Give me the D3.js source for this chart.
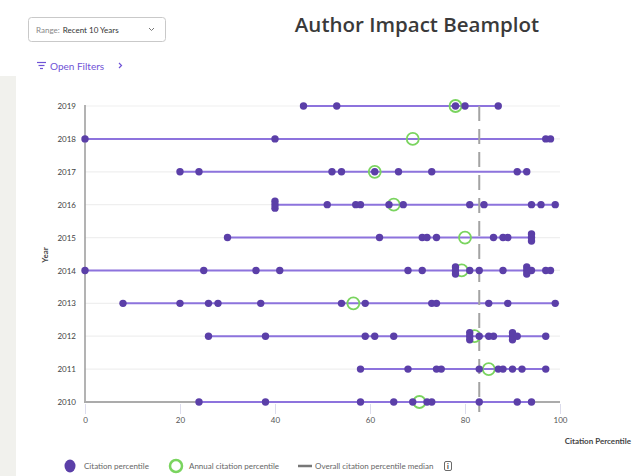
<!DOCTYPE html>
<html>
<head>
<meta charset="utf-8">
<script src="https://cdn.jsdelivr.net/npm/d3@7"></script>
<style>
  body { margin: 0; background: #fff; font-family: Lato, "Open Sans", sans-serif; }
  #beamplot { width: 641px; height: 476px; }
</style>
</head>
<body>
<div id="beamplot"></div>
<script>
/*
 *  DATA BLOCK STARTS
 */
var years = [2019, 2018, 2017, 2016, 2015, 2014, 2013, 2012, 2011, 2010];

var pct_2019 = [46, 53, 78, 80, 87];
var pct_2018 = [0, 40, 97, 98];
var pct_2017 = [20, 24, 52, 54, 61, 66, 73, 91, 93];
var pct_2016 = [40, 40, 40, 51, 57, 58, 64, 67, 81, 84, 94, 96, 99];
var pct_2015 = [30, 62, 71, 72, 74, 86, 88, 89, 94, 94, 94];
var pct_2014 = [0, 25, 36, 41, 68, 71, 78, 78, 78, 81, 83, 88, 93, 93, 93, 94, 97, 98];
var pct_2013 = [8, 20, 26, 28, 37, 54, 59, 73, 74, 85, 89, 99];
var pct_2012 = [26, 38, 59, 61, 65, 81, 81, 81, 83, 85, 86, 90, 90, 90, 91, 97];
var pct_2011 = [58, 68, 74, 75, 83, 87, 88, 90, 92, 97];
var pct_2010 = [24, 38, 58, 65, 69, 72, 73, 83, 91, 94];

var annual_pct = [78, 69, 61, 65, 80, 79.3, 56.5, 82, 85, 70.4];
var overall_median = 83;
var x_ticks = [0, 20, 40, 60, 80, 100];

var legend_labels = ["Citation percentile", "Annual citation percentile", "Overall citation percentile median"];
/*
 *  DATA BLOCK ENDS
 */

var pct_by_year = [pct_2019, pct_2018, pct_2017, pct_2016, pct_2015,
                   pct_2014, pct_2013, pct_2012, pct_2011, pct_2010];

var dot_color = "#5b3fa8";
var line_color = "#8d73dd";
var green = "#7ad45f";

var svg = d3.select('#beamplot')
    .append('svg')
        .attr('width', 641)
        .attr('height', 476);

// left grey strip of the page
svg.append('rect')
    .attr('x', 0).attr('y', 76)
    .attr('width', 16).attr('height', 400)
    .attr('fill', '#f1f1ed');

// header: range dropdown
var dd = svg.append('g');
dd.append('rect')
    .attr('x', 28.5).attr('y', 17.5)
    .attr('width', 137).attr('height', 24)
    .attr('rx', 3)
    .attr('fill', '#fff')
    .attr('stroke', '#c9c9c9');
dd.append('text')
    .attr('x', 36).attr('y', 32.5)
    .attr('font-size', 8)
    .attr('fill', '#888')
    .text('Range:')
    .append('tspan')
        .attr('fill', '#333')
        .attr('dx', 3)
        .text('Recent 10 Years');
dd.append('path')
    .attr('d', 'M149,28 l2.5,2.5 l2.5,-2.5')
    .attr('fill', 'none')
    .attr('stroke', '#777')
    .attr('stroke-width', 1);

svg.append('text')
    .attr('x', 417).attr('y', 32)
    .attr('text-anchor', 'middle')
    .attr('font-family', '"Open Sans", sans-serif')
    .attr('font-size', 20.5)
    .attr('font-weight', 600)
    .attr('fill', '#3a3a3a')
    .text('Author Impact Beamplot');

// open filters link
var of = svg.append('g').attr('stroke', '#6f52d6').attr('stroke-width', 1.2);
of.append('line').attr('x1', 37).attr('x2', 46).attr('y1', 62.5).attr('y2', 62.5);
of.append('line').attr('x1', 38.5).attr('x2', 44.5).attr('y1', 65.5).attr('y2', 65.5);
of.append('line').attr('x1', 40).attr('x2', 43).attr('y1', 68.5).attr('y2', 68.5);
of.append('path').attr('d', 'M119,63 l2.5,2.5 l-2.5,2.5').attr('fill', 'none');
svg.append('text')
    .attr('x', 50).attr('y', 69.5)
    .attr('font-size', 10)
    .attr('fill', '#6f52d6')
    .text('Open Filters');

/*
 *  PLOT
 */
var x_scale = d3.scaleLinear()
    .domain([0, 100])
    .range([85, 560]);
var y_scale = d3.scalePoint()
    .domain(years)
    .range([106, 402]);

var plot = svg.append('g');

// gridlines
plot.selectAll('.grid')
    .data(years)
    .enter().append('line')
        .attr('class', 'grid')
        .attr('x1', x_scale(0)).attr('x2', x_scale(100))
        .attr('y1', function(d) { return y_scale(d); })
        .attr('y2', function(d) { return y_scale(d); })
        .attr('stroke', '#efefef')
        .attr('stroke-width', 1.2);

// x axis
var x_axis = plot.append('g')
    .attr('transform', 'translate(0,' + y_scale(2010) + ')')
    .call(d3.axisBottom(x_scale).tickValues(x_ticks).tickSize(10).tickPadding(5));
x_axis.select('.domain').remove();
x_axis.selectAll('.tick line').attr('stroke', '#dcdcec').attr('transform', 'translate(0,2)');
x_axis.selectAll('.tick text')
    .attr('font-family', 'Lato, sans-serif')
    .attr('font-size', 8)
    .attr('fill', '#555');

// y axis
var y_axis = plot.append('g')
    .attr('transform', 'translate(' + x_scale(0) + ',0)')
    .call(d3.axisLeft(y_scale).tickSize(0).tickPadding(9));
y_axis.select('.domain').remove();
y_axis.selectAll('.tick text')
    .attr('font-family', 'Lato, sans-serif')
    .attr('font-size', 8)
    .attr('fill', '#444');

plot.append('line')
    .attr('x1', x_scale(0)).attr('x2', x_scale(0))
    .attr('y1', y_scale(2019) - 1).attr('y2', y_scale(2010))
    .attr('stroke', '#9a9a9a')
    .attr('stroke-width', 1.5);
plot.append('line')
    .attr('x1', x_scale(0) - 1).attr('x2', x_scale(100))
    .attr('y1', y_scale(2010)).attr('y2', y_scale(2010))
    .attr('stroke', '#ababab')
    .attr('stroke-width', 2);

// axis titles
svg.append('text')
    .attr('transform', 'translate(48,255)rotate(-90)')
    .attr('text-anchor', 'middle')
    .attr('font-size', 8)
    .attr('font-weight', 700)
    .attr('fill', '#444')
    .text('Year');
svg.append('text')
    .attr('x', 631).attr('y', 444)
    .attr('text-anchor', 'end')
    .attr('font-size', 8)
    .attr('font-weight', 700)
    .attr('fill', '#444')
    .text('Citation Percentile');

// beams
var rows = years.map(function(y, i) {
    return {year: y, values: pct_by_year[i], annual: annual_pct[i]};
});

plot.selectAll('.beam')
    .data(rows)
    .enter().append('line')
        .attr('class', 'beam')
        .attr('x1', function(d) { return x_scale(d3.min(d.values)); })
        .attr('x2', function(d) { return x_scale(d3.max(d.values)); })
        .attr('y1', function(d) { return y_scale(d.year); })
        .attr('y2', function(d) { return y_scale(d.year); })
        .attr('stroke', line_color)
        .attr('stroke-width', 2);

// median line
plot.append('line')
    .attr('x1', x_scale(overall_median)).attr('x2', x_scale(overall_median))
    .attr('y1', y_scale(2019)).attr('y2', y_scale(2010) + 10)
    .attr('stroke', '#a3a3a3')
    .attr('stroke-width', 2)
    .style('stroke-dasharray', '15, 8');

// annual percentile rings
plot.selectAll('.annual')
    .data(rows)
    .enter().append('circle')
        .attr('class', 'annual')
        .attr('cx', function(d) { return x_scale(d.annual); })
        .attr('cy', function(d) { return y_scale(d.year); })
        .attr('r', 6)
        .attr('fill', 'none')
        .attr('stroke', green)
        .attr('stroke-width', 1.8);

// dots, equal values stacked a little
var dots = [];
rows.forEach(function(r) {
    var counts = d3.rollup(r.values, function(v) { return v.length; }, function(v) { return v; });
    var seen = {};
    r.values.forEach(function(v) {
        seen[v] = (seen[v] || 0);
        var n = counts.get(v);
        dots.push({year: r.year, value: v, off: (seen[v] - (n - 1) / 2) * 3.5});
        seen[v] += 1;
    });
});

plot.selectAll('.dot')
    .data(dots)
    .enter().append('circle')
        .attr('class', 'dot')
        .attr('cx', function(d) { return x_scale(d.value); })
        .attr('cy', function(d) { return y_scale(d.year) + d.off; })
        .attr('r', 3.7)
        .attr('fill', dot_color);

/*
 *  LEGEND
 */
var legend = svg.append('g').attr('font-size', 8).attr('fill', '#666');
legend.append('ellipse')
    .attr('cx', 70).attr('cy', 466)
    .attr('rx', 5.5).attr('ry', 6.5)
    .attr('fill', dot_color);
legend.append('text').attr('x', 84).attr('y', 469).text(legend_labels[0]);
legend.append('circle')
    .attr('cx', 176).attr('cy', 466)
    .attr('r', 6)
    .attr('fill', 'none')
    .attr('stroke', green)
    .attr('stroke-width', 2.5);
legend.append('text').attr('x', 189).attr('y', 469).text(legend_labels[1]);
legend.append('line')
    .attr('x1', 298).attr('x2', 312)
    .attr('y1', 466).attr('y2', 466)
    .attr('stroke', '#777')
    .attr('stroke-width', 2.5);
legend.append('text').attr('x', 315).attr('y', 469).text(legend_labels[2]);
legend.append('rect')
    .attr('x', 444.5).attr('y', 461.5)
    .attr('width', 7).attr('height', 9)
    .attr('rx', 1.5)
    .attr('fill', 'none')
    .attr('stroke', '#444')
    .attr('stroke-width', 0.8);
legend.append('text')
    .attr('x', 448).attr('y', 469)
    .attr('text-anchor', 'middle')
    .attr('font-size', 7)
    .attr('font-weight', 700)
    .attr('fill', '#333')
    .text('i');
</script>
</body>
</html>
